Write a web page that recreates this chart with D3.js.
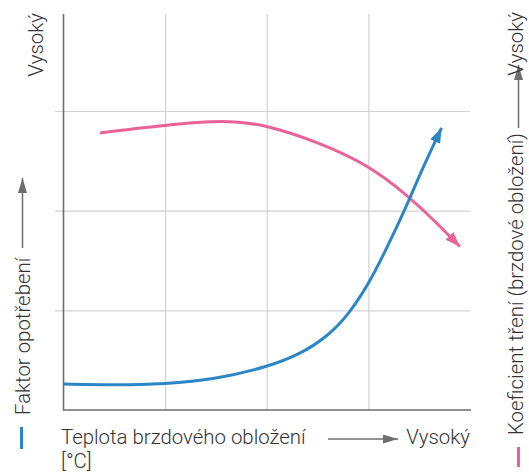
<!DOCTYPE html>
<meta charset="utf-8">
<style>
body { margin: 0; background: #fff; }
text { font-family: "Roboto", "Liberation Sans", sans-serif; font-weight: 300; font-size: 20.4px; fill: #333; }
.grid line { stroke: #d2d2d2; stroke-width: 1.2; }
.grid .domain, .grid text { display: none; }
.axis { stroke: #6d6e70; stroke-width: 1.6; fill: none; }
</style>
<svg width="529" height="475"></svg>
<script src="https://cdn.jsdelivr.net/npm/d3@7"></script>
<script>

// wear factor (blue) and friction coefficient (pink) vs lining temperature, 0..4 relative units
var wearX = [0, 0.5, 1.0, 1.5, 2.0, 2.33, 2.6, 2.8, 3.0, 3.15, 3.31, 3.41, 3.54, 3.72];
var wearY = [0.26, 0.25, 0.26, 0.31, 0.43, 0.56, 0.74, 0.95, 1.26, 1.56, 1.9, 2.13, 2.44, 2.83];
var frictionX = [0.36, 1.0, 1.6, 2.0, 2.5, 3.0, 3.4, 3.65, 3.9];
var frictionY = [2.78, 2.86, 2.91, 2.86, 2.69, 2.46, 2.14, 1.9, 1.64];
var gridTicks = [1, 2, 3];

var xLabel = "Teplota brzdového obložení";
var xUnit = "[°C]";
var highLabel = "Vysoký";
var wearLabel = "Faktor opotřebení";
var frictionLabel = "Koeficient tření (brzdové obložení)";

var blue = "#2b86c8", pink = "#ec6298", grey = "#6d6e70";

var svg = d3.select("svg");

var x = d3.scaleLinear().domain([0, 4]).range([63.5, 470]);
var y = d3.scaleLinear().domain([0, 4]).range([410, 11.3]);

var defs = svg.append("defs");
function marker(id, color, len, wid) {
  defs.append("marker")
      .attr("id", id)
      .attr("markerUnits", "userSpaceOnUse")
      .attr("viewBox", "0 0 " + len + " " + wid)
      .attr("refX", len).attr("refY", wid / 2)
      .attr("markerWidth", len).attr("markerHeight", wid)
      .attr("orient", "auto")
    .append("path")
      .attr("d", "M0,0L" + len + "," + (wid / 2) + "L0," + wid + "Z")
      .attr("fill", color);
}
marker("ab", blue, 15, 11);
marker("ap", pink, 15, 11);
marker("ag", grey, 15, 9);

// grid
svg.append("g")
    .attr("class", "grid")
    .attr("transform", "translate(55,0)")
    .call(d3.axisLeft(y).tickValues(gridTicks).tickSize(-(x(4) - 55)).tickFormat(""));

svg.append("g")
    .attr("class", "grid")
    .attr("transform", "translate(0," + y(0) + ")")
    .call(d3.axisBottom(x).tickValues(gridTicks).tickSize(-(y(0) - 14)).tickFormat(""));

// axes
svg.append("path")
    .attr("class", "axis")
    .attr("d", "M" + x(0) + ",14V" + y(0) + "H" + (x(4) + 1));

var line = d3.line()
    .x(function(d) { return x(d[0]); })
    .y(function(d) { return y(d[1]); })
    .curve(d3.curveBasis);

svg.append("path")
    .datum(d3.zip(frictionX, frictionY))
    .attr("d", line)
    .attr("fill", "none")
    .attr("stroke", pink)
    .attr("stroke-width", 3)
    .attr("marker-end", "url(#ap)");

svg.append("path")
    .datum(d3.zip(wearX, wearY))
    .attr("d", line)
    .attr("fill", "none")
    .attr("stroke", blue)
    .attr("stroke-width", 3)
    .attr("marker-end", "url(#ab)");

// bottom label
svg.append("text").attr("x", 61).attr("y", 444).text(xLabel);
svg.append("text").attr("x", 61).attr("y", 468).text(xUnit);
svg.append("line")
    .attr("x1", 328).attr("x2", 398).attr("y1", 439).attr("y2", 439)
    .attr("stroke", grey).attr("stroke-width", 1.5)
    .attr("marker-end", "url(#ag)");
svg.append("text").attr("x", 470).attr("y", 444).attr("text-anchor", "end").text(highLabel);

// left top label
svg.append("text")
    .attr("transform", "translate(43,13) rotate(-90)")
    .attr("text-anchor", "end")
    .text(highLabel);

// left label with arrow
svg.append("text")
    .attr("transform", "translate(29.5,415) rotate(-90)")
    .text(wearLabel);
svg.append("line")
    .attr("x1", 22.5).attr("x2", 22.5).attr("y1", 248).attr("y2", 178)
    .attr("stroke", grey).attr("stroke-width", 1.5)
    .attr("marker-end", "url(#ag)");
svg.append("line")
    .attr("x1", 21.5).attr("x2", 21.5).attr("y1", 427).attr("y2", 449)
    .attr("stroke", blue).attr("stroke-width", 3);

// right label with arrow
svg.append("text")
    .attr("transform", "translate(523,435) rotate(-90)")
    .text(frictionLabel);
svg.append("line")
    .attr("x1", 518.5).attr("x2", 518.5).attr("y1", 128).attr("y2", 65)
    .attr("stroke", grey).attr("stroke-width", 1.5)
    .attr("marker-end", "url(#ag)");
svg.append("text")
    .attr("transform", "translate(523,12) rotate(-90)")
    .attr("text-anchor", "end")
    .text(highLabel);
svg.append("line")
    .attr("x1", 518.5).attr("x2", 518.5).attr("y1", 447).attr("y2", 467)
    .attr("stroke", pink).attr("stroke-width", 3);

</script>
